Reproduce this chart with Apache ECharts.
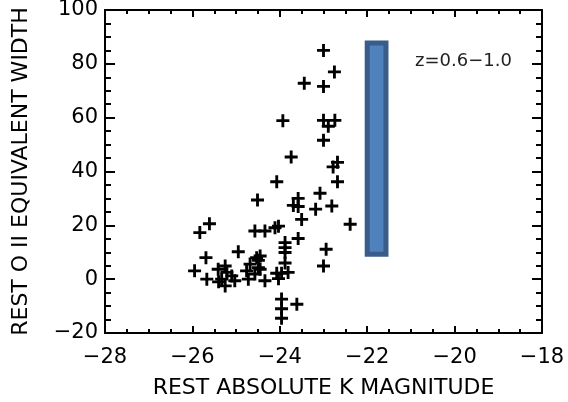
<!DOCTYPE html>
<html>
<head>
<meta charset="utf-8">
<script src="https://cdn.jsdelivr.net/npm/echarts@6/dist/echarts.min.js"></script>
<style>
  html, body { margin: 0; padding: 0; background: #fff; }
  #chart { width: 568px; height: 402px; }
</style>
</head>
<body>
<div id="chart"></div>
<script>
// absolute K magnitude, O II equivalent width
var points = [
  [-23.0, 85], [-22.75, 77], [-23.44, 72.8], [-23.0, 71.6],
  [-23.93, 58.9], [-23.0, 59], [-22.74, 59], [-22.89, 56.8], [-23.0, 51.6],
  [-23.74, 45.4], [-22.68, 43.4], [-22.78, 41.7], [-24.07, 36.2], [-22.68, 36.2],
  [-24.51, 29.4], [-23.08, 31.9], [-23.58, 30.0], [-23.69, 27.4], [-23.58, 27.0],
  [-23.18, 26.0], [-22.81, 27.2], [-23.5, 22.2], [-22.39, 20.4],
  [-25.61, 20.6], [-25.83, 17.3], [-24.57, 17.9], [-24.34, 17.9], [-24.11, 19.1],
  [-24.03, 19.7], [-23.58, 15.1], [-23.88, 13.6], [-23.88, 11.7], [-23.88, 9.9],
  [-22.94, 11.1], [-23.0, 4.9], [-24.95, 10.2], [-25.69, 8.0], [-24.53, 8.0],
  [-24.45, 8.6], [-24.49, 7.0], [-24.49, 4.3],
  [-25.95, 3.1], [-25.67, 0], [-25.41, 3.7], [-25.25, 4.9], [-25.21, 2.5],
  [-25.33, 0], [-25.25, -2.5], [-25.1, 1.2], [-25.03, -0.6], [-25.4, -1.0],
  [-24.76, 3.1], [-24.72, 0], [-24.68, 5.6], [-24.57, 1.9], [-24.34, -0.6],
  [-24.45, 3.7], [-24.07, 2.2], [-23.96, 2.2], [-23.81, 2.5], [-24.03, 0.2],
  [-23.88, 6.0], [-23.96, -7.4], [-23.61, -9.3], [-23.96, -11], [-23.96, -14.5]
]

var xTicks = [-28, -18, 2]   // min, max, step
var yTicks = [-20, 100, 20]
var barRange = [[-22.0, 87.7], [-21.57, 9.3]]   // blue box corners
var labelText = 'z=0.6\u22121.0'

var chart = echarts.init(document.getElementById('chart'))

var font = 'DejaVu Sans'
var minus = function (v) { return String(v).replace('-', '\u2212') }

function xAxisOf (pos, labels) {
  return {
    type: 'value',
    position: pos,
    min: xTicks[0],
    max: xTicks[1],
    interval: xTicks[2],
    name: labels ? 'REST ABSOLUTE K MAGNITUDE' : '',
    nameLocation: 'middle',
    nameGap: 44,
    nameTextStyle: { color: '#000', fontFamily: font, fontSize: 22 },
    axisLine: { onZero: false, lineStyle: { color: '#000', width: 2 } },
    axisTick: { inside: true, length: 7, lineStyle: { color: '#000', width: 2 } },
    minorTick: { show: true, splitNumber: 4, length: 4, lineStyle: { color: '#000', width: 2 } },
    axisLabel: {
      show: labels,
      margin: 14,
      color: '#000',
      fontFamily: font,
      fontSize: 21,
      formatter: minus
    },
    splitLine: { show: false }
  }
}

function yAxisOf (pos, labels) {
  return {
    type: 'value',
    position: pos,
    min: yTicks[0],
    max: yTicks[1],
    interval: yTicks[2],
    name: labels ? 'REST O II EQUIVALENT WIDTH' : '',
    nameLocation: 'middle',
    nameRotate: 90,
    nameGap: 73,
    nameTextStyle: { color: '#000', fontFamily: font, fontSize: 22 },
    axisLine: { onZero: false, lineStyle: { color: '#000', width: 2 } },
    axisTick: { inside: true, length: 10, lineStyle: { color: '#000', width: 2 } },
    minorTick: { show: true, splitNumber: 4, length: 6, lineStyle: { color: '#000', width: 2 } },
    axisLabel: {
      show: labels,
      margin: 7,
      color: '#000',
      fontFamily: font,
      fontSize: 21,
      formatter: minus
    },
    splitLine: { show: false }
  }
}

var option = {
  animation: false,
  backgroundColor: '#fff',
  grid: { left: 105, right: 26, top: 10, bottom: 69, containLabel: false, outerBoundsMode: 'none' },
  title: {
    text: labelText,
    left: 410,
    top: 47,
    textStyle: { color: '#222', fontFamily: font, fontSize: 18, fontWeight: 'normal' }
  },
  xAxis: [xAxisOf('bottom', true), xAxisOf('top', false)],
  yAxis: [yAxisOf('left', true), yAxisOf('right', false)],
  series: [{
    type: 'scatter',
    data: points,
    symbol: 'path://M-2.2,-10H2.2V-2.2H10V2.2H2.2V10H-2.2V2.2H-10V-2.2H-2.2Z',
    symbolSize: 13,
    itemStyle: { color: '#000', opacity: 1 },
    markArea: {
      silent: true,
      itemStyle: { color: '#4f81bd', borderColor: '#385d8a', borderWidth: 5, opacity: 1 },
      data: [[{ coord: barRange[0] }, { coord: barRange[1] }]]
    }
  }]
}

chart.setOption(option)
</script>
</body>
</html>
